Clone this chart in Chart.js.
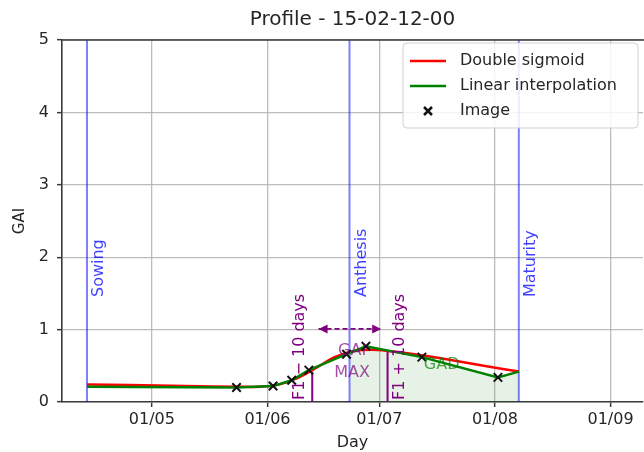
<!DOCTYPE html>
<html><head><meta charset="utf-8">
<script src="https://cdn.jsdelivr.net/npm/chart.js@4"></script>
<style>html,body{margin:0;padding:0;background:#fff;overflow:hidden}#wrap{width:644px;height:452px}</style>
</head><body><div id="wrap"><canvas id="c" width="644" height="452"></canvas></div>
<script>
const titleText = 'Profile - 15-02-12-00';
const xTitle = 'Day';
const yTitle = 'GAI';
// x values are day of year 2015
const xTickValues = [121, 152, 182, 213, 244];
const xTickLabels = ['01/05', '01/06', '01/07', '01/08', '01/09'];
const yTickValues = [0, 1, 2, 3, 4, 5];
const seriesNames = ['Double sigmoid', 'Linear interpolation', 'Image'];
// Image observations
const imageDays = [143.7, 153.5, 158.5, 163.1, 173.2, 178.4, 193.4, 213.8];
const imageGAI  = [0.20, 0.22, 0.30, 0.44, 0.66, 0.77, 0.62, 0.34];
// Linear interpolation
const linDays = [103.6, 143.7, 153.5, 158.5, 163.1, 173.2, 178.4, 193.4, 213.8, 219.4];
const linGAI  = [0.21, 0.20, 0.22, 0.30, 0.44, 0.66, 0.77, 0.62, 0.34, 0.42];
// Double sigmoid
const sigDays = [103.6, 115, 130, 145, 150, 155, 160, 165, 170, 175, 180, 185, 190, 200, 210, 219.4];
const sigGAI  = [0.24, 0.235, 0.22, 0.21, 0.21, 0.24, 0.33, 0.47, 0.62, 0.70, 0.72, 0.70, 0.67, 0.59, 0.50, 0.42];
// GAD shaded area (anthesis -> maturity)
const gadDays = [174.0, 178.4, 193.4, 213.8, 219.4];
const gadGAI  = [0.68, 0.77, 0.62, 0.34, 0.42];
// Stages
const stageNames = ['Sowing', 'Anthesis', 'Maturity'];
const stageDays  = [103.6, 174.0, 219.4];
const stageLabelGAI = 1.45;
// F1 +/- 10 days window
const windowNames = ['F1 \u2212 10 days', 'F1 + 10 days'];
const windowDays  = [164.0, 184.2];
const windowTops  = [0.42, 0.69];
const arrowDays = [165.7, 182.5];
const arrowGAI = 1.01;
const gaiMaxText = ['GAI', 'MAX'];
const gaiMaxPos = [174.7, 0.70, 0.40];
const gadText = 'GAD';
const gadPos = [198.7, 0.51];

const FONT = '"DejaVu Sans", sans-serif';
const TXT = '#262626';
const GRID = 'rgba(176,176,176,0.85)';
const SPINE = '#3a3a3a';
const PURPLE = '#800080';
const BLUE_LINE = 'rgba(0,0,255,0.5)';
const BLUE_TXT = 'rgba(0,0,255,0.75)';
const pts = (xs, ys) => xs.map((x, i) => ({x: x, y: ys[i]}));

const datasets = [
  {label: seriesNames[0], type: 'line', data: pts(sigDays, sigGAI), borderColor: '#ff0000', borderWidth: 2.5, pointRadius: 0, tension: 0.3, order: 3},
  {label: seriesNames[1], type: 'line', data: pts(linDays, linGAI), borderColor: '#008000', borderWidth: 2.5, pointRadius: 0, order: 2},
  {label: seriesNames[2], type: 'scatter', data: pts(imageDays, imageGAI), borderColor: '#111', backgroundColor: '#111', pointStyle: 'crossRot', pointRadius: 6, borderWidth: 2, order: 1},
  {label: 'GAD', type: 'line', data: pts(gadDays, gadGAI), borderWidth: 0, pointRadius: 0, fill: 'origin', backgroundColor: 'rgba(0,128,0,0.1)', order: 20}
];
stageDays.forEach((d, i) => datasets.push({label: stageNames[i], type: 'line', data: [{x: d, y: 0}, {x: d, y: 5}], borderColor: BLUE_LINE, borderWidth: 2, pointRadius: 0, order: 15}));
windowDays.forEach((d, i) => datasets.push({label: windowNames[i], type: 'line', data: [{x: d, y: 0}, {x: d, y: windowTops[i]}], borderColor: PURPLE, borderWidth: 2, pointRadius: 0, order: 14}));
datasets.push({label: 'arrow', type: 'line', data: [{x: arrowDays[0], y: arrowGAI}, {x: arrowDays[1], y: arrowGAI}], borderColor: PURPLE, borderWidth: 1.8, borderDash: [5, 3], pointRadius: 0, order: 13});

const annot = {
  id: 'annot',
  afterDatasetsDraw(chart) {
    const ctx = chart.ctx, xs = chart.scales.x, ys = chart.scales.y, ca = chart.chartArea;
    ctx.save();
    // top spine
    ctx.strokeStyle = SPINE; ctx.lineWidth = 1.6;
    ctx.beginPath(); ctx.moveTo(ca.left, ca.top); ctx.lineTo(chart.width, ca.top); ctx.stroke();
    // stage labels
    ctx.font = '16px ' + FONT; ctx.fillStyle = BLUE_TXT;
    stageDays.forEach((d, i) => {
      ctx.save();
      ctx.translate(xs.getPixelForValue(d) + 4, ys.getPixelForValue(stageLabelGAI));
      ctx.rotate(-Math.PI / 2);
      ctx.textAlign = 'left'; ctx.textBaseline = 'top';
      ctx.fillText(stageNames[i], 0, 0);
      ctx.restore();
    });
    // window labels
    ctx.fillStyle = PURPLE;
    windowDays.forEach((d, i) => {
      ctx.save();
      const px = xs.getPixelForValue(d);
      ctx.translate(i === 0 ? px - 4 : px + 4, ys.getPixelForValue(0) - 2);
      ctx.rotate(-Math.PI / 2);
      ctx.textAlign = 'left'; ctx.textBaseline = i === 0 ? 'bottom' : 'top';
      ctx.fillText(windowNames[i], 0, 0);
      ctx.restore();
    });
    // arrow heads
    const ay = ys.getPixelForValue(arrowGAI);
    const a0 = xs.getPixelForValue(arrowDays[0]), a1 = xs.getPixelForValue(arrowDays[1]);
    ctx.fillStyle = PURPLE;
    [[a0, 1], [a1, -1]].forEach(([x, dir]) => {
      ctx.beginPath(); ctx.moveTo(x, ay); ctx.lineTo(x + dir * 9, ay - 4.5); ctx.lineTo(x + dir * 9, ay + 4.5); ctx.closePath(); ctx.fill();
    });
    // GAI MAX
    ctx.font = '16px ' + FONT; ctx.fillStyle = 'rgba(128,0,128,0.7)';
    ctx.textAlign = 'center'; ctx.textBaseline = 'middle';
    ctx.fillText(gaiMaxText[0], xs.getPixelForValue(gaiMaxPos[0]), ys.getPixelForValue(gaiMaxPos[1]));
    ctx.fillText(gaiMaxText[1], xs.getPixelForValue(gaiMaxPos[0]), ys.getPixelForValue(gaiMaxPos[2]));
    // GAD
    ctx.fillStyle = 'rgba(0,128,0,0.7)';
    ctx.fillText(gadText, xs.getPixelForValue(gadPos[0]), ys.getPixelForValue(gadPos[1]));
    // legend
    const lx = ca.right - 240, ly = ca.top + 3, lw = 235, lh = 85;
    ctx.beginPath();
    ctx.roundRect(lx, ly, lw, lh, 4);
    ctx.fillStyle = 'rgba(255,255,255,0.85)'; ctx.fill();
    ctx.strokeStyle = 'rgba(204,204,204,0.9)'; ctx.lineWidth = 1; ctx.stroke();
    ctx.textAlign = 'left'; ctx.textBaseline = 'middle'; ctx.font = '16px ' + FONT;
    [0, 1, 2].forEach(i => {
      const ds = chart.data.datasets[i];
      const ry = ly + 18 + i * 25;
      if (i < 2) {
        ctx.strokeStyle = ds.borderColor; ctx.lineWidth = 2.5;
        ctx.beginPath(); ctx.moveTo(lx + 7, ry); ctx.lineTo(lx + 43, ry); ctx.stroke();
      } else {
        ctx.strokeStyle = '#111'; ctx.lineWidth = 2.5;
        ctx.beginPath(); ctx.moveTo(lx + 21, ry - 4); ctx.lineTo(lx + 29, ry + 4);
        ctx.moveTo(lx + 29, ry - 4); ctx.lineTo(lx + 21, ry + 4); ctx.stroke();
      }
      ctx.fillStyle = TXT;
      ctx.fillText(ds.label, lx + 57, ry);
    });
    ctx.restore();
  }
};

new Chart(document.getElementById('c'), {
  data: {datasets: datasets},
  options: {
    responsive: false, animation: false,
    layout: {autoPadding: false, padding: {left: 0, right: 1, top: 0, bottom: 0}},
    plugins: {
      legend: {display: false}, tooltip: {enabled: false},
      title: {display: true, text: titleText, fullSize: false, color: TXT, font: {family: FONT, size: 20, weight: 'normal'}, padding: {top: 8, bottom: 8}}
    },
    scales: {
      x: {
        type: 'linear', min: 96.9, max: 252.7,
        afterBuildTicks: s => { s.ticks = xTickValues.map(v => ({value: v})); },
        afterFit: s => { s.height = 50; s.paddingLeft = 0; s.paddingRight = 0; },
        ticks: {color: TXT, font: {family: FONT, size: 16}, padding: 3, maxRotation: 0,
          callback: v => { const i = xTickValues.indexOf(v); return i >= 0 ? xTickLabels[i] : ''; }},
        grid: {color: GRID, lineWidth: 1.3, tickLength: 5, tickColor: SPINE, tickWidth: 1.5},
        border: {color: SPINE, width: 1.6},
        title: {display: true, text: xTitle, color: TXT, font: {family: FONT, size: 16}, padding: {top: 0, bottom: 0}}
      },
      y: {
        type: 'linear', min: 0, max: 5,
        afterBuildTicks: s => { s.ticks = yTickValues.map(v => ({value: v})); },
        afterFit: s => { s.width = 62; s.paddingTop = 0; s.paddingBottom = 0; },
        ticks: {color: TXT, font: {family: FONT, size: 16}, padding: 8},
        grid: {color: GRID, lineWidth: 1.3, tickLength: 5, tickColor: SPINE, tickWidth: 1.5},
        border: {color: SPINE, width: 1.6},
        title: {display: true, text: yTitle, color: TXT, font: {family: FONT, size: 15}, padding: {top: 11, bottom: 0}}
      }
    }
  },
  plugins: [annot]
});
</script></body></html>
